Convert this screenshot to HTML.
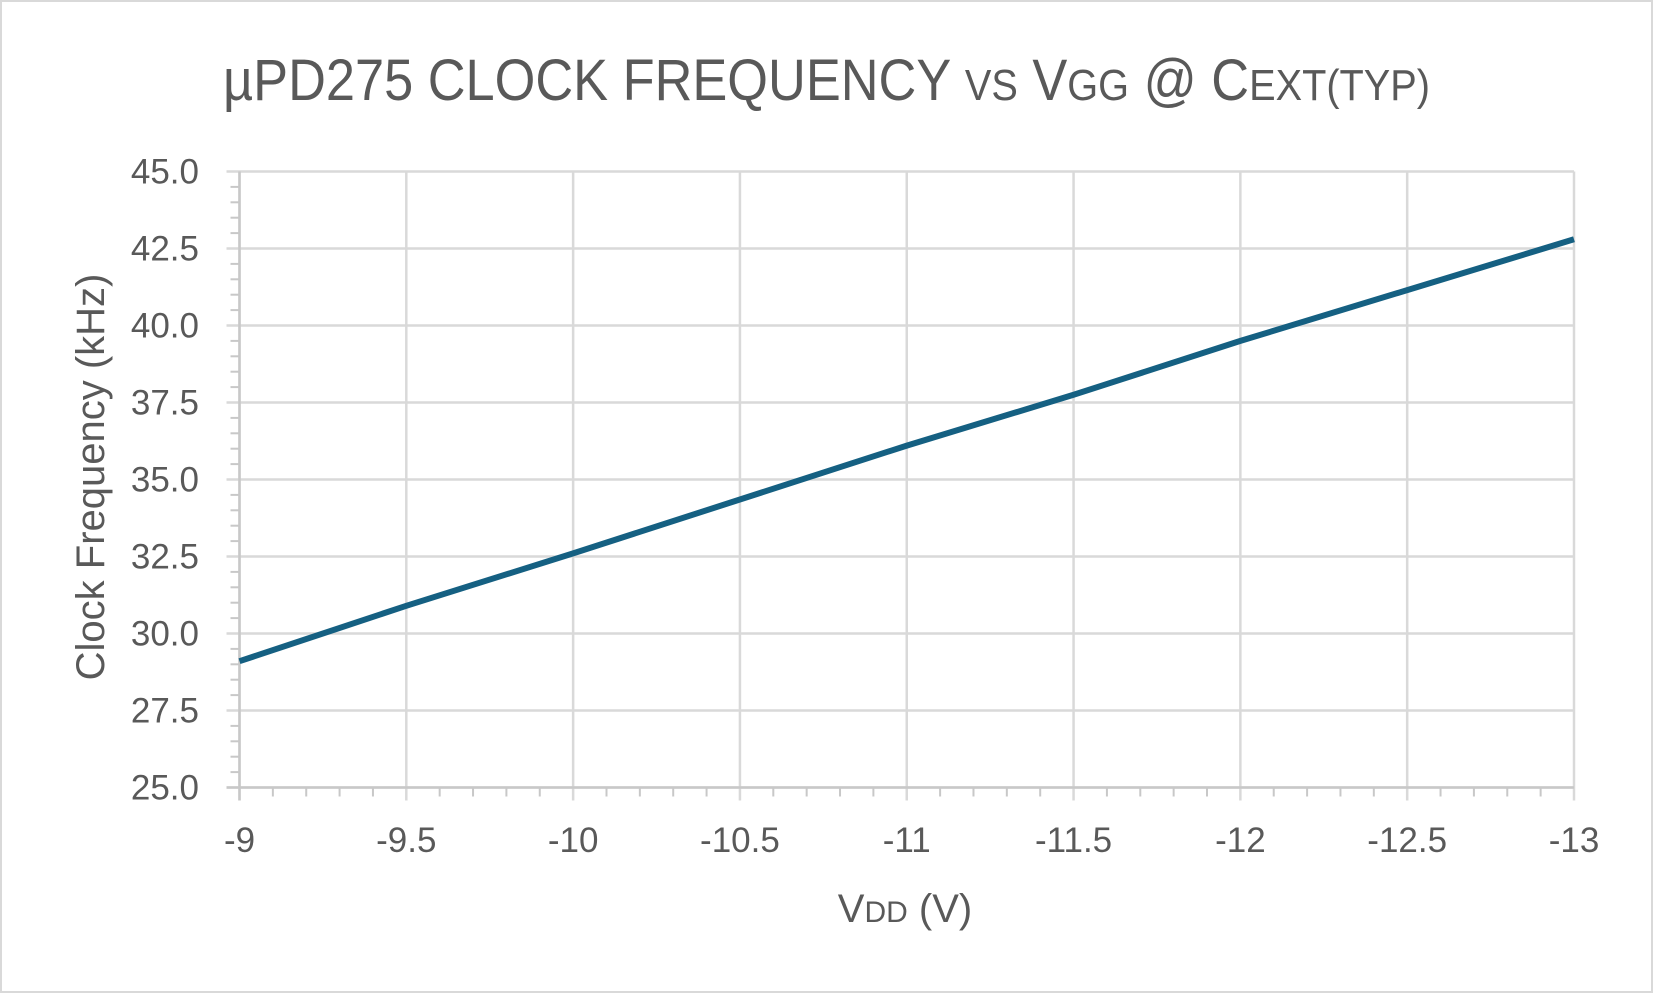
<!DOCTYPE html>
<html><head><meta charset="utf-8"><style>
html,body{margin:0;padding:0;background:#fff;}
svg{display:block;font-family:"Liberation Sans",sans-serif;}
</style></head><body>
<svg id="chart" width="1653" height="993" viewBox="0 0 1653 993" xmlns="http://www.w3.org/2000/svg">
<rect x="1" y="1" width="1651" height="991" fill="#fff" stroke="#d9d9d9" stroke-width="2"/>
<text x="223" y="100" fill="#595959" font-size="58" textLength="1207" lengthAdjust="spacingAndGlyphs">µPD275 CLOCK FREQUENCY <tspan font-size="44">VS</tspan> V<tspan font-size="44">GG</tspan> @ C<tspan font-size="44">EXT(TYP)</tspan></text>
<g id="grid"></g>
<g id="axes"></g>
<g id="series"></g>
<text transform="translate(104,477) rotate(-90)" text-anchor="middle" fill="#595959" font-size="40">Clock Frequency (kHz)</text>
<text x="905" y="922" text-anchor="middle" fill="#595959" font-size="40">V<tspan font-size="30">DD</tspan> (V)</text>
</svg>
<script>
const xValues = [-9, -9.5, -10, -10.5, -11, -11.5, -12, -12.5, -13];
const freqValues = [29.1, 30.9, 32.6, 34.35, 36.1, 37.75, 39.5, 41.15, 42.8];
const xTicks = [-9, -9.5, -10, -10.5, -11, -11.5, -12, -12.5, -13];
const xTickLabels = ["-9","-9.5","-10","-10.5","-11","-11.5","-12","-12.5","-13"];
const yTicks = [25, 27.5, 30, 32.5, 35, 37.5, 40, 42.5, 45];
const yTickLabels = ["25.0","27.5","30.0","32.5","35.0","37.5","40.0","42.5","45.0"];

const L=239.5, R=1574, T=171.5, B=787.5;
const xMin=-9, xMax=-13, yMin=25, yMax=45;
function sx(v){return L+(v-xMin)/(xMax-xMin)*(R-L);}
function sy(v){return B-(v-yMin)/(yMax-yMin)*(B-T);}
const NS="http://www.w3.org/2000/svg";
function mk(tag,attrs,parent){const e=document.createElementNS(NS,tag);for(const k in attrs)e.setAttribute(k,attrs[k]);parent.appendChild(e);return e;}
const grid=document.getElementById('grid'), axes=document.getElementById('axes'), series=document.getElementById('series');

yTicks.forEach((v,i)=>{
  const g=mk('line',{x1:L-13,x2:R,y1:sy(v),y2:sy(v),stroke:'#d9d9d9','stroke-width':2.5},grid);
  
  
  const t=mk('text',{x:199,y:sy(v)+12,'text-anchor':'end',fill:'#595959','font-size':35},axes);
  t.textContent=yTickLabels[i];
  
  
});
xTicks.forEach((v,i)=>{
  const g=mk('line',{x1:sx(v),x2:sx(v),y1:T,y2:B+13,stroke:'#d9d9d9','stroke-width':2.5},grid);
  
  
  const t=mk('text',{x:sx(v),y:852,'text-anchor':'middle',fill:'#595959','font-size':35},axes);
  t.textContent=xTickLabels[i];
  
  
});
for(let k=0;k<=40;k++){
  if(k%5===0)continue;
  const yv=yMin+k*0.5;
  const m=mk('line',{x1:L-9,x2:L,y1:sy(yv),y2:sy(yv),stroke:'#c8c8c8','stroke-width':2},axes);
  
  
  const xv=xMin-k*0.1;
  const n=mk('line',{x1:sx(xv),x2:sx(xv),y1:B,y2:B+9,stroke:'#c8c8c8','stroke-width':2},axes);
  
  
}
const ya=mk('line',{x1:L,x2:L,y1:T,y2:B+13,stroke:'#c8c8c8','stroke-width':2.5},axes);


const xa=mk('line',{x1:L-13,x2:R,y1:B,y2:B,stroke:'#c8c8c8','stroke-width':2.5},axes);



const pts=xValues.map((x,i)=>sx(x).toFixed(1)+','+sy(freqValues[i]).toFixed(1)).join(' ');
const pl=mk('polyline',{points:pts,fill:'none',stroke:'#156082','stroke-width':6,'stroke-linejoin':'round'},series);


</script>
</body></html>
